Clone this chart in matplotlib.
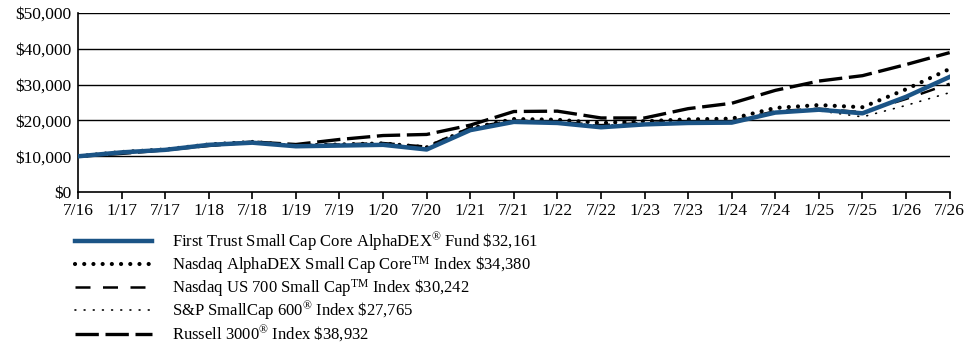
import matplotlib
matplotlib.use("Agg")
import matplotlib.pyplot as plt
from matplotlib.lines import Line2D
from matplotlib.ticker import FuncFormatter

plt.rcParams['font.family'] = ['Liberation Serif', 'DejaVu Serif']
plt.rcParams['mathtext.fontset'] = 'custom'
plt.rcParams['mathtext.rm'] = 'Liberation Serif'
plt.rcParams['mathtext.it'] = 'Liberation Serif:italic'
plt.rcParams['mathtext.bf'] = 'Liberation Serif:bold'

dates = ["7/16", "1/17", "7/17", "1/18", "7/18", "1/19", "7/19", "1/20", "7/20", "1/21", "7/21",
         "1/22", "7/22", "1/23", "7/23", "1/24", "7/24", "1/25", "7/25", "1/26", "7/26"]

fund = [10000, 11100, 11800, 13200, 13800, 12800, 13000, 13200, 11900, 17300, 19600,
        19300, 18100, 18900, 19300, 19400, 22200, 23000, 22000, 26600, 32161]
alphadex = [10000, 11200, 11900, 13300, 14000, 13000, 13300, 13600, 12500, 17800, 20400,
            20200, 19300, 19800, 20300, 20500, 23500, 24300, 23700, 28700, 34380]
us700 = [10000, 11000, 11700, 13000, 13900, 13100, 13300, 13700, 12700, 18000, 20000,
         19600, 18700, 19300, 19700, 19800, 22600, 23300, 22300, 26000, 30242]
sp600 = [10000, 11200, 11800, 13100, 14000, 12900, 13000, 13300, 11800, 17800, 19900,
         19500, 18600, 19100, 19500, 19600, 22300, 22700, 21000, 24200, 27765]
russell = [10000, 10800, 11800, 13000, 14000, 13300, 14700, 15800, 16100, 18700, 22500,
           22600, 20700, 20700, 23300, 24800, 28400, 31000, 32500, 35600, 38932]

labels = [
    r"First Trust Small Cap Core AlphaDEX$^{\circledR}$ Fund \$32,161",
    r"Nasdaq AlphaDEX Small Cap Core$^{\mathrm{TM}}$ Index \$34,380",
    r"Nasdaq US 700 Small Cap$^{\mathrm{TM}}$ Index \$30,242",
    r"S&P SmallCap 600$^{\circledR}$ Index \$27,765",
    r"Russell 3000$^{\circledR}$ Index \$38,932",
]

W, H = 975, 350
fig = plt.figure(figsize=(9.75, 3.5), dpi=100)
ax = fig.add_axes([0.08, 0.451, 0.894, 0.512])
x = list(range(len(dates)))

for yv in [10000, 20000, 30000, 40000, 50000]:
    ax.axhline(yv, color='black', lw=1.0, zorder=1)

styles = [
    dict(color='#1b5486', lw=3.2, linestyle='-', zorder=4),
    dict(color='black', lw=3.0, linestyle=(0, (0.01, 2.2)), dash_capstyle='round', zorder=3),
    dict(color='black', lw=1.8, linestyle=(0, (6, 5)), zorder=3),
    dict(color='black', lw=1.2, linestyle=(0, (0.5, 5)), dash_capstyle='round', zorder=3),
    dict(color='black', lw=2.4, linestyle=(0, (7, 2)), zorder=3),
]
series = [fund, alphadex, us700, sp600, russell]

for s, st in zip(series, styles):
    ax.plot(x, s, **st)

ax.set_xlim(0, len(dates) - 1)
ax.set_ylim(0, 50000)
ax.set_yticks([0, 10000, 20000, 30000, 40000, 50000])
ax.yaxis.set_major_formatter(FuncFormatter(lambda v, p: "${:,.0f}".format(v)))
ax.set_xticks(x)
ax.set_xticklabels(dates)
for sp in ['top', 'right']:
    ax.spines[sp].set_visible(False)
ax.spines['left'].set_linewidth(1.2)
ax.spines['bottom'].set_linewidth(1.2)
ax.tick_params(axis='y', length=0, labelsize=12.5, pad=5)
ax.tick_params(axis='x', direction='out', length=5, width=1.2, labelsize=12.5, pad=3)

# legend, drawn row by row
row_y = [241, 264, 287, 310, 334]
for yc, st, lab in zip(row_y, styles, labels):
    fy = 1 - yc / H
    st2 = {k: v for k, v in st.items() if k != 'zorder'}
    fig.add_artist(Line2D([75 / W, 152 / W], [fy, fy], transform=fig.transFigure, **st2))
    fig.text(172 / W, 1 - (yc + 5.5) / H, lab, fontsize=12, va='baseline', ha='left')

fig.savefig("out.png", dpi=100)
